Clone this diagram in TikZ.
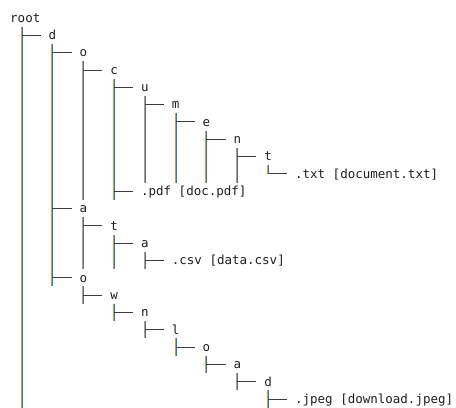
\documentclass[tikz,border=0pt]{standalone}
\usepackage{fontspec}
\setmonofont{DejaVu Sans Mono}
\definecolor{spineorange}{RGB}{214,150,80}
\definecolor{spineblue}{RGB}{50,120,190}
\definecolor{branchgray}{RGB}{60,60,60}
\definecolor{labelgray}{RGB}{30,30,30}

\begin{document}
\begin{tikzpicture}[x=7.7pt, y=-17.32pt,
    entry/.style={anchor=base west, inner sep=0pt, text=labelgray,
                  font=\ttfamily\fontsize{12.5}{15}\selectfont},
    branch/.style={draw=branchgray, line width=0.9pt},
    spineL/.style={draw=spineorange, line width=0.9pt, xshift=-0.45pt},
    spineR/.style={draw=spineblue, line width=0.9pt, xshift=0.45pt}]
  \useasboundingbox (-1.2987,-0.539) rectangle (57.92,22.96);

  % entries: number / char column / row / text
  \foreach \i/\c/\r/\t in {0/0/0/root, 1/5/1/d, 2/9/2/o, 3/13/3/c, 4/17/4/u,
      5/21/5/m, 6/25/6/e, 7/29/7/n, 8/33/8/t, 9/37/9/.txt [document.txt],
      10/17/10/.pdf [doc.pdf], 11/9/11/a, 12/13/12/t, 13/17/13/a,
      14/21/14/.csv [data.csv], 15/9/15/o, 16/13/16/w, 17/17/17/n,
      18/21/18/l, 19/25/19/o, 20/29/20/a, 21/33/21/d,
      22/37/22/.jpeg [download.jpeg]}
    \node[entry] (n\i) at (\c,\r+0.75) {\t};

  % vertical rules: level / first row / last row
  \foreach \c/\a/\b in {0/1/23, 1/2/16, 2/3/11, 2/12/15, 2/16/17,
      3/4/11, 3/13/15, 3/17/18, 4/5/10, 4/14/15, 4/18/19,
      5/6/10, 5/19/20, 6/7/10, 6/20/21, 7/8/10, 7/21/22,
      8/9/9.5, 8/22/23}{
    \draw[spineL] (4*\c+1.5,\a) -- (4*\c+1.5,\b);
    \draw[spineR] (4*\c+1.5,\a) -- (4*\c+1.5,\b);
  }

  % branches into each entry
  \foreach \i in {1,...,22}
    \draw[branch] (n\i.base west) ++(-1,-0.25) -- ++(-2.5,0);
\end{tikzpicture}
\end{document}
